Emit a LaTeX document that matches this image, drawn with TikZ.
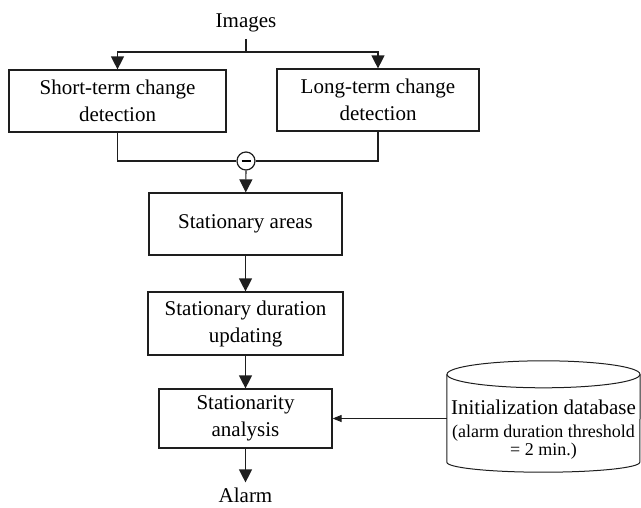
\documentclass[tikz,border=0pt]{standalone}
\usepackage{fontspec}
\setmainfont{Liberation Serif}
\usetikzlibrary{positioning,arrows.meta}
\definecolor{inkLine}{RGB}{30,30,30}
\tikzset{
  blk/.style={rectangle, draw=inkLine, line width=1.2pt, minimum height=62pt,
              align=center, font=\fontsize{21}{27}\selectfont, inner sep=2pt},
  lbl/.style={inner sep=7pt, font=\fontsize{21}{27}\selectfont},
  diff/.style={circle, draw=inkLine, line width=1.2pt, minimum size=18pt, inner sep=0pt},
  dbbox/.style={rectangle, minimum width=193pt, minimum height=111pt, inner sep=0pt},
  dbtext/.style={align=center, inner sep=0pt, font=\fontsize{18}{18}\selectfont},
  wire/.style={draw=inkLine, line width=1.2pt},
  flow/.style={wire, -{Triangle[length=13pt, width=13pt]}},
  dbflow/.style={draw=inkLine, line width=1pt, -{Triangle[length=9pt, width=7pt]}},
}
\begin{document}
\begin{tikzpicture}[x=1pt, y=-1pt, on grid]
  \useasboundingbox (0,0) rectangle (641,507);
  % inputs
  \node[lbl] (imgs) at (246,22.5) {Images};
  \coordinate (split) at (246,52);
  \node[blk, minimum width=217pt] (short) at (117.5,101) {Short-term change\\detection};
  \node[blk, minimum width=202pt] (long) at (378,100) {Long-term change\\detection};
  \node[diff] (minus) at (246,161) {\rule{9pt}{1.2pt}};
  % main column
  \node[blk, minimum width=193pt] (areas) at (245.5,224) {Stationary areas};
  \node[blk, below=99.5pt of areas, minimum width=195pt, minimum height=63pt] (dur) {Stationary duration\\updating};
  \node[blk, below=95pt of dur, minimum width=173pt, minimum height=59pt] (ana) {Stationarity\\analysis};
  \node[lbl, inner sep=5pt, below=76.5pt of ana] (alarm) {Alarm};
  % database
  \node[dbbox] (db) at (543.5,416.5) {};
  \draw[wire, line width=1pt] ([yshift=-13.5pt]db.north west) -- ([yshift=10pt]db.south west)
    arc[start angle=180, end angle=360, x radius=96.5pt, y radius=10pt]
    -- ([yshift=-13.5pt]db.north east);
  \draw[wire, line width=1pt] ([yshift=-13.5pt]db.north) ellipse[x radius=96.5pt, y radius=13.5pt];
  \node[dbtext, anchor=north] (dbtxt) at ([yshift=-38.5pt]db.north)
    {\fontsize{21}{18}\selectfont Initialization database\\[5pt]
     \fontsize{18}{18}\selectfont (alarm duration threshold\\
     \fontsize{18}{18}\selectfont = 2 min.)};
  % connectors
  \draw[wire] (imgs) -- (split);
  \draw[flow] (split) -| (short);
  \draw[flow] (split) -| (long);
  \draw[wire] (short) |- (minus);
  \draw[wire] (long) |- (minus);
  \draw[flow] (minus) -- (areas);
  \draw[flow] (areas) -- (dur);
  \draw[flow] (dur) -- (ana);
  \draw[flow] (ana) -- (alarm);
  \draw[dbflow] (db.west |- ana.east) -- (ana.east);
\end{tikzpicture}
\end{document}
